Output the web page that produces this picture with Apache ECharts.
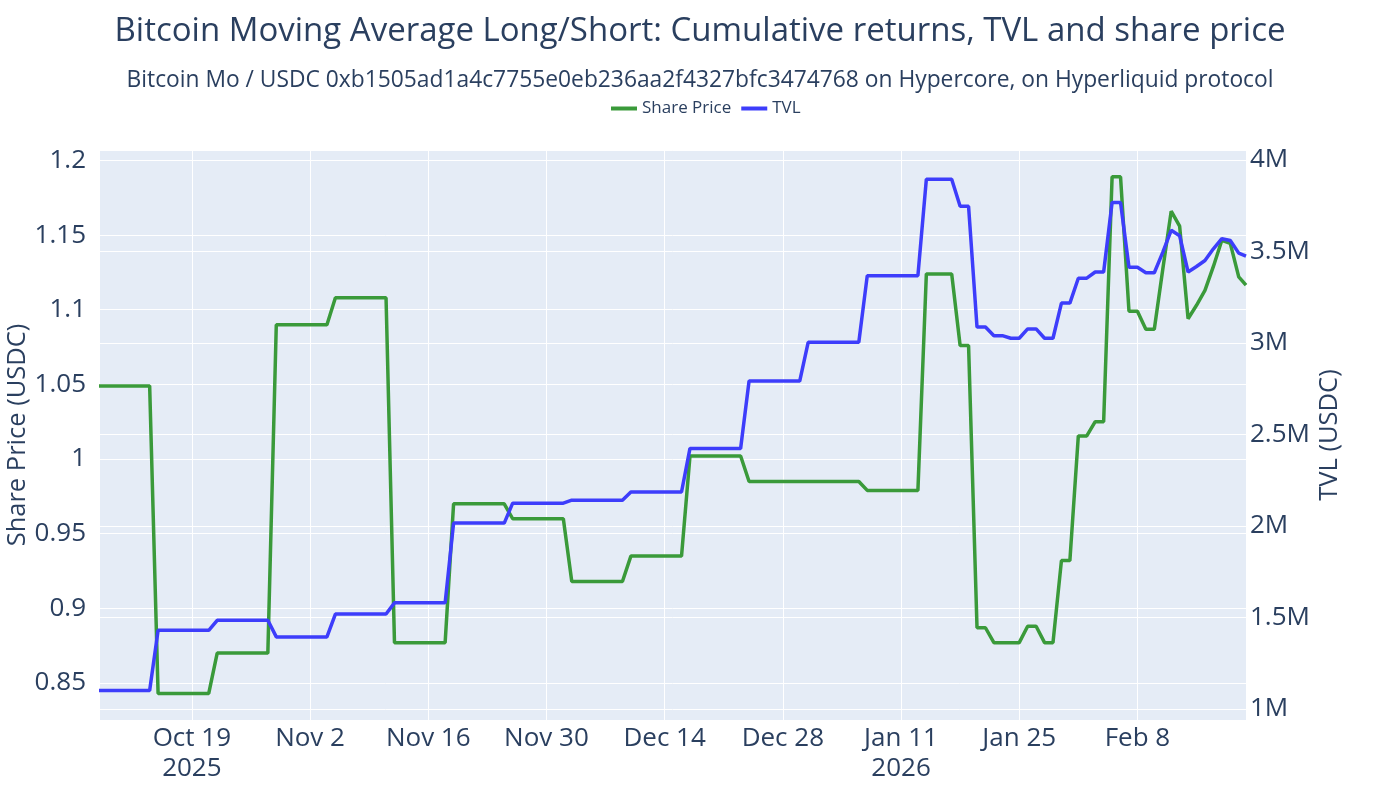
<!DOCTYPE html>
<html>
<head>
<meta charset="utf-8">
<title>Bitcoin Moving Average Long/Short</title>
<script src="https://cdn.jsdelivr.net/npm/echarts@6/dist/echarts.min.js"></script>
<style>
  html, body { margin: 0; padding: 0; background: #fff; }
  #chart { width: 1400px; height: 800px; }
</style>
</head>
<body>
<div id="chart"></div>
<script>
// corner points of the two lines (daily data, flat stretches left out)
var dates = [
  '2025-10-08', '2025-10-14', '2025-10-15', '2025-10-21', '2025-10-22', '2025-10-28', '2025-10-29',
  '2025-11-04', '2025-11-05', '2025-11-11', '2025-11-12', '2025-11-18', '2025-11-19', '2025-11-25',
  '2025-11-26', '2025-12-02', '2025-12-03', '2025-12-09', '2025-12-10', '2025-12-16', '2025-12-17',
  '2025-12-23', '2025-12-24', '2025-12-30', '2025-12-31', '2026-01-06', '2026-01-07', '2026-01-13',
  '2026-01-14', '2026-01-17', '2026-01-18', '2026-01-19', '2026-01-20', '2026-01-21', '2026-01-22',
  '2026-01-23', '2026-01-24', '2026-01-25', '2026-01-26', '2026-01-27', '2026-01-28', '2026-01-29',
  '2026-01-30', '2026-01-31', '2026-02-01', '2026-02-02', '2026-02-03', '2026-02-04', '2026-02-05',
  '2026-02-06', '2026-02-07', '2026-02-08', '2026-02-09', '2026-02-10', '2026-02-11', '2026-02-12',
  '2026-02-13', '2026-02-14', '2026-02-15', '2026-02-16', '2026-02-17', '2026-02-18', '2026-02-19',
  '2026-02-20', '2026-02-20T20:40'
];
var sharePrice = [
  1.049, 1.049, 0.843, 0.843, 0.870, 0.870, 1.090,
  1.090, 1.108, 1.108, 0.877, 0.877, 0.970, 0.970,
  0.960, 0.960, 0.918, 0.918, 0.935, 0.935, 1.002,
  1.002, 0.985, 0.985, 0.985, 0.985, 0.979, 0.979,
  1.124, 1.124, 1.076, 1.076, 0.887, 0.887, 0.877,
  0.877, 0.877, 0.877, 0.888, 0.888, 0.877, 0.877,
  0.932, 0.932, 1.0155, 1.0155, 1.025, 1.025, 1.189,
  1.189, 1.099, 1.099, 1.087, 1.087, 1.127, 1.166,
  1.156, 1.094, 1.103, 1.113, 1.129, 1.1465, 1.1445,
  1.122, 1.1165
];
var tvl = [
  1101000, 1101000, 1430000, 1430000, 1485000, 1485000, 1394000,
  1394000, 1519000, 1519000, 1580000, 1580000, 2016000, 2016000,
  2125000, 2125000, 2141000, 2141000, 2186000, 2186000, 2424000,
  2424000, 2792000, 2792000, 3004000, 3004000, 3368000, 3368000,
  3895000, 3895000, 3747000, 3747000, 3087000, 3087000, 3040000,
  3040000, 3026000, 3026000, 3077000, 3077000, 3026000, 3026000,
  3218000, 3218000, 3354000, 3354000, 3388000, 3388000, 3768000,
  3768000, 3414000, 3414000, 3384000, 3384000, 3495000, 3616000,
  3586000, 3388000, 3418000, 3451000, 3515000, 3570000, 3560000,
  3491000, 3475000
];
// x ticks every two weeks from Oct 19
var tickOrigin = '2025-10-19';
var xTickLabels = ['Oct 19\n2025', 'Nov 2', 'Nov 16', 'Nov 30', 'Dec 14', 'Dec 28', 'Jan 11\n2026', 'Jan 25', 'Feb 8'];

var FORTNIGHT = 14 * 86400000;
function toTime(s) {
  return Date.parse(s.length === 10 ? s + 'T00:00:00Z' : s + ':00Z');
}
// x axis runs in fortnights since tickOrigin so the grid lands on the 2-week ticks
function toX(s) {
  return (toTime(s) - toTime(tickOrigin)) / FORTNIGHT;
}

var priceData = dates.map(function (d, i) { return [toX(d), sharePrice[i]]; });
var tvlData = dates.map(function (d, i) { return [toX(d), tvl[i]]; });

function isStep(v, step) {
  return Math.abs(v / step - Math.round(v / step)) < 1e-6;
}

var textColor = '#2a3f5f';
var font = '"Open Sans", "Liberation Sans", Arial, sans-serif';

var chart = echarts.init(document.getElementById('chart'));
chart.setOption({
  animation: false,
  backgroundColor: '#ffffff',
  textStyle: { fontFamily: font, color: textColor },
  title: [
    {
      text: 'Bitcoin Moving Average Long/Short: Cumulative returns, TVL and share price',
      left: 'center', top: 10,
      textStyle: { fontFamily: font, fontSize: 33, fontWeight: 'normal', color: textColor }
    },
    {
      text: 'Bitcoin Mo / USDC 0xb1505ad1a4c7755e0eb236aa2f4327bfc3474768 on Hypercore, on Hyperliquid protocol',
      left: 'center', top: 64,
      textStyle: { fontFamily: font, fontSize: 22.8, fontWeight: 'normal', color: textColor }
    }
  ],
  legend: {
    top: 95, left: 606,
    itemWidth: 26, itemHeight: 4, itemGap: 10,
    icon: 'rect',
    textStyle: { fontFamily: font, fontSize: 17, color: textColor },
    data: ['Share Price', 'TVL']
  },
  grid: {
    left: 99, right: 154, top: 150, bottom: 80,
    outerBoundsMode: 'none',
    show: true, backgroundColor: '#e5ecf6', borderWidth: 0
  },
  xAxis: {
    type: 'value',
    min: 'dataMin', max: 'dataMax',
    splitNumber: 10,
    axisLine: { show: false },
    axisTick: { show: false },
    splitLine: { show: true, lineStyle: { color: '#ffffff', width: 1 } },
    axisLabel: {
      fontFamily: font, fontSize: 26, color: textColor, lineHeight: 30, margin: 4,
      showMinLabel: false, showMaxLabel: false,
      formatter: function (v) {
        if (!isStep(v, 1)) return '';
        return xTickLabels[Math.round(v)] || '';
      }
    }
  },
  yAxis: [
    {
      type: 'value',
      min: 0.8252, max: 1.2070,
      splitNumber: 7,
      name: 'Share Price (USDC)',
      nameLocation: 'middle', nameGap: 68, nameMoveOverlap: false,
      nameTextStyle: { fontFamily: font, fontSize: 25.5, color: textColor },
      axisLine: { show: false },
      axisTick: { show: false },
      splitLine: { show: true, lineStyle: { color: '#ffffff', width: 1 } },
      axisLabel: {
        fontFamily: font, fontSize: 26, color: textColor, margin: 13,
        showMinLabel: false, showMaxLabel: false,
        formatter: function (v) {
          if (!isStep(v, 0.05)) return '';
          return String(+v.toFixed(2));
        }
      }
    },
    {
      type: 'value',
      min: 940000, max: 4054600,
      splitNumber: 6,
      position: 'right',
      name: 'TVL (USDC)',
      nameLocation: 'middle', nameGap: 71, nameRotate: 90, nameMoveOverlap: false,
      nameTextStyle: { fontFamily: font, fontSize: 25.5, color: textColor },
      axisLine: { show: false },
      axisTick: { show: false },
      splitLine: { show: true, lineStyle: { color: '#ffffff', width: 1 } },
      axisLabel: {
        fontFamily: font, fontSize: 26, color: textColor, margin: 4,
        showMinLabel: false, showMaxLabel: false,
        formatter: function (v) {
          if (!isStep(v, 500000)) return '';
          return (+(v / 1e6).toFixed(1)) + 'M';
        }
      }
    }
  ],
  series: [
    {
      name: 'Share Price',
      type: 'line',
      data: priceData,
      yAxisIndex: 0,
      showSymbol: false,
      color: '#3a9a3a',
      lineStyle: { width: 3.5, color: '#3a9a3a' }
    },
    {
      name: 'TVL',
      type: 'line',
      data: tvlData,
      yAxisIndex: 1,
      showSymbol: false,
      color: '#3d3dfb',
      lineStyle: { width: 3.5, color: '#3d3dfb' }
    }
  ]
});
</script>
</body>
</html>
